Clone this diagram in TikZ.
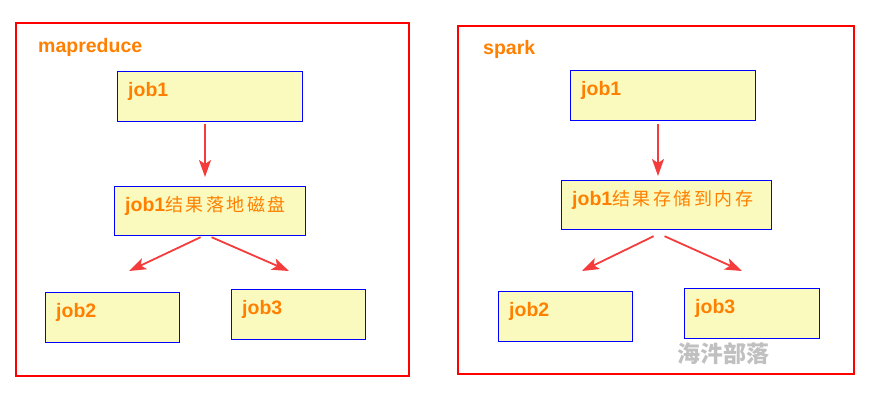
\documentclass[tikz,border=0pt]{standalone}
\usepackage{fontspec}
\setmainfont{Liberation Sans}
\newfontfamily\cjkfont{Noto Sans CJK SC}
\usetikzlibrary{arrows.meta,calc}
\definecolor{frameRed}{RGB}{255,0,0}
\definecolor{boxBlue}{RGB}{0,0,255}
\definecolor{boxFill}{RGB}{250,250,190}
\definecolor{txtOrange}{RGB}{255,128,0}
\definecolor{arrRed}{RGB}{245,60,60}
\definecolor{wmGray}{RGB}{192,192,192}
\newcommand\cjch[1]{\makebox[20.5pt][l]{\cjkfont\mdseries\fontsize{18}{20}\selectfont #1}}
\begin{document}
\begin{tikzpicture}[x=1pt,y=-1pt,
  panel/.style={draw=frameRed, line width=2pt, anchor=north west, inner sep=0pt},
  jobbox/.style={draw=boxBlue, fill=boxFill, line width=1.2pt, anchor=north west, inner sep=0pt},
  jobtext/.style={anchor=base west, inner sep=0pt, text=txtOrange, font=\bfseries\fontsize{19.5}{22}\selectfont},
  flow/.style={draw=arrRed, line width=1.8pt, -{Stealth[length=17pt,width=12pt,inset=4pt]}},
]
\useasboundingbox (0,0) rectangle (871,400);

% panels
\node[panel, minimum width=393pt, minimum height=353pt] (PL) at (15,22) {};
\node[panel, minimum width=396pt, minimum height=348pt] (PR) at (457,25) {};
\node[jobtext] (tPL) at (38,52) {mapreduce};
\node[jobtext] (tPR) at (483,54) {spark};

% left boxes
\node[jobbox, minimum width=185pt, minimum height=50pt] (L1) at (117,71) {};
\node[jobbox, minimum width=191pt, minimum height=49pt] (L2) at (114,186) {};
\node[jobbox, minimum width=134pt, minimum height=50pt] (L3) at (45,292) {};
\node[jobbox, minimum width=134pt, minimum height=50pt] (L4) at (231,289) {};
\node[jobtext] (tL1) at ($(L1.north west)+(11,25)$) {job1};
\node[jobtext] (tL2) at ($(L2.north west)+(11,25)$) {job1\cjch{结}\cjch{果}\cjch{落}\cjch{地}\cjch{磁}\cjch{盘}};
\node[jobtext] (tL3) at ($(L3.north west)+(11,25)$) {job2};
\node[jobtext] (tL4) at ($(L4.north west)+(11,25)$) {job3};

% right boxes
\node[jobbox, minimum width=185pt, minimum height=50pt] (R1) at (570,70) {};
\node[jobbox, minimum width=210pt, minimum height=49pt] (R2) at (561,180) {};
\node[jobbox, minimum width=134pt, minimum height=50pt] (R3) at (498,291) {};
\node[jobbox, minimum width=135pt, minimum height=50pt] (R4) at (684,288) {};
\node[jobtext] (tR1) at ($(R1.north west)+(11,25)$) {job1};
\node[jobtext] (tR2) at ($(R2.north west)+(11,25)$) {job1\cjch{结}\cjch{果}\cjch{存}\cjch{储}\cjch{到}\cjch{内}\cjch{存}};
\node[jobtext] (tR3) at ($(R3.north west)+(11,25)$) {job2};
\node[jobtext] (tR4) at ($(R4.north west)+(11,25)$) {job3};

% left arrows
\coordinate (la1) at (205,177);
\coordinate (la2) at (129,271);
\coordinate (la3) at (289,271);
\draw[flow] ($(L1.south -| la1)+(0,2)$) -- (la1);
\draw[flow] ($(L2.south)+(-9.5,1)$) -- (la2);
\draw[flow] ($(L2.south)+(1.5,1)$) -- (la3);

% right arrows
\coordinate (ra1) at (658,176);
\coordinate (ra2) at (582,271);
\coordinate (ra3) at (742,271);
\draw[flow] ($(R1.south -| ra1)+(0,3)$) -- (ra1);
\draw[flow] ($(R2.south)+(-13,6)$) -- (ra2);
\draw[flow] ($(R2.south)+(-2,6)$) -- (ra3);

% watermark
\node[anchor=base west, inner sep=0pt, text=wmGray, font=\cjkfont\bfseries\fontsize{23}{26}\selectfont] (wm) at (677,362) {海汼部落};
\end{tikzpicture}
\end{document}
